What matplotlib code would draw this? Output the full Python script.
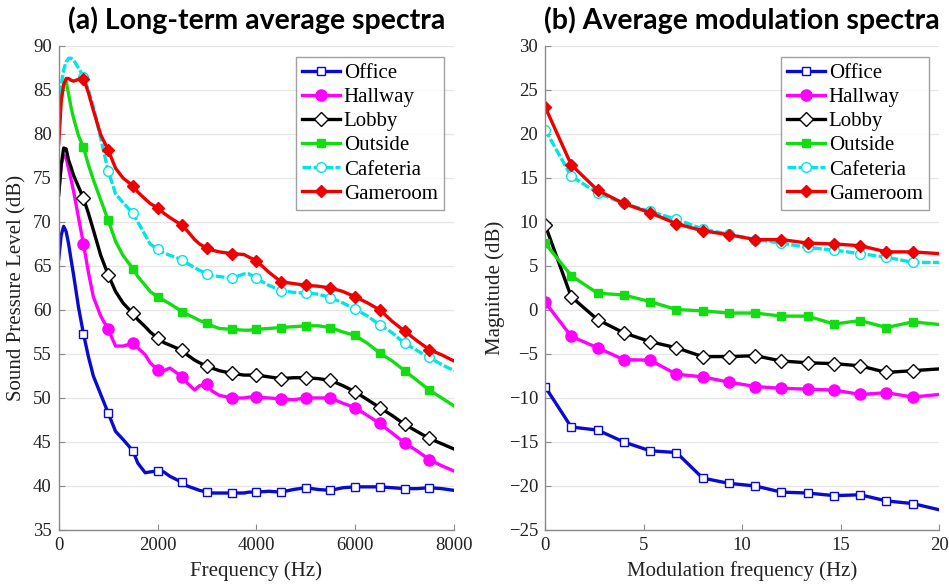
import matplotlib
matplotlib.use("Agg")
import matplotlib.pyplot as plt
import numpy as np

# ---------------- data: (a) long-term average spectra ----------------
freq_hz = [0, 50, 100, 150, 200, 250, 300, 400, 500, 600, 700, 850, 1000,
           1150, 1300, 1500, 1600, 1750, 1850, 2000, 2125, 2250, 2500, 2600,
           2750, 2850, 3000, 3100, 3250, 3500, 3750, 3850, 4000, 4250, 4500,
           4750, 5000, 5250, 5500, 5750, 6000, 6250, 6500, 6750, 7000, 7250,
           7500, 7750, 8000]

spl_office = [65.8, 68.5, 69.5, 68.9, 67.5, 65.7, 64.0, 60.3, 57.3, 54.7, 52.5,
              50.4, 48.3, 46.2, 45.3, 44.0, 42.6, 41.5, 41.6, 41.7, 41.6, 41.1,
              40.4, 40.0, 39.7, 39.5, 39.3, 39.2, 39.2, 39.2, 39.2, 39.3, 39.3,
              39.4, 39.3, 39.6, 39.8, 39.6, 39.5, 39.8, 39.9, 39.9, 39.9, 39.8,
              39.7, 39.7, 39.8, 39.7, 39.5]
spl_hallway = [73.5, 76.5, 77.6, 77.3, 76.0, 74.8, 73.5, 70.5, 67.5, 64.3, 61.5,
               59.3, 57.8, 55.9, 55.9, 56.2, 55.7, 54.9, 54.0, 53.2, 53.1, 53.4,
               52.4, 51.7, 50.9, 51.4, 51.6, 50.8, 50.3, 50.0, 50.0, 50.1, 50.1,
               50.0, 49.9, 49.8, 50.0, 50.0, 50.0, 49.4, 48.9, 48.0, 47.1, 46.0,
               44.9, 44.0, 43.0, 42.3, 41.7]
spl_lobby = [73.1, 76.5, 78.4, 78.3, 77.0, 76.2, 75.3, 74.0, 72.7, 71.0, 69.1,
             66.2, 64.0, 62.1, 60.8, 59.6, 58.9, 58.1, 57.5, 56.8, 56.3, 56.0,
             55.4, 54.9, 54.3, 54.0, 53.6, 53.4, 53.1, 52.8, 52.6, 52.6, 52.6,
             52.4, 52.2, 52.3, 52.3, 52.2, 52.0, 51.4, 50.7, 49.8, 48.9, 48.0,
             47.0, 46.2, 45.4, 44.8, 44.2]
spl_outside = [80.0, 84.0, 85.8, 86.0, 84.5, 83.0, 81.8, 79.8, 78.5, 76.5, 74.8,
               72.5, 70.2, 67.8, 66.2, 64.7, 63.8, 62.8, 62.1, 61.5, 61.1, 60.7,
               59.8, 59.5, 59.1, 58.8, 58.5, 58.2, 57.9, 57.8, 57.7, 57.7, 57.8,
               57.9, 58.0, 58.1, 58.2, 58.2, 58.0, 57.5, 57.1, 56.2, 55.1, 54.2,
               53.1, 52.0, 50.9, 50.0, 49.1]
spl_cafeteria = [82.0, 85.5, 87.3, 88.2, 88.6, 88.6, 88.4, 87.5, 86.5, 85.0, 83.1,
                 79.5, 75.8, 73.2, 72.2, 71.0, 70.0, 68.5, 67.5, 66.9, 66.5, 66.2,
                 65.7, 65.3, 64.8, 64.5, 64.1, 63.9, 63.8, 63.6, 64.1, 64.1, 63.6,
                 62.8, 62.2, 62.0, 61.9, 61.8, 61.4, 60.8, 60.1, 59.3, 58.3, 57.4,
                 56.2, 55.4, 54.6, 53.8, 53.1]
spl_gameroom = [78.9, 83.8, 85.6, 86.3, 86.3, 86.1, 86.0, 86.2, 86.3, 84.7, 82.7,
                79.9, 78.2, 76.1, 75.0, 74.1, 73.4, 72.6, 72.1, 71.6, 71.0, 70.5,
                69.6, 69.0, 68.0, 67.5, 67.0, 66.8, 66.6, 66.4, 66.3, 66.0, 65.6,
                64.3, 63.2, 63.0, 62.8, 62.7, 62.5, 62.1, 61.5, 60.8, 60.0, 58.7,
                57.6, 56.5, 55.5, 54.9, 54.2]

# ---------------- data: (b) average modulation spectra ----------------
mod_freq = [0, 1.33, 2.67, 4, 5.33, 6.67, 8, 9.33, 10.67, 12, 13.33, 14.67,
            16, 17.33, 18.67, 20]
mod_office = [-8.7, -13.3, -13.65, -15.0, -16.0, -16.2, -19.1, -19.7, -20.0,
              -20.7, -20.8, -21.1, -21.0, -21.7, -22.0, -22.7]
mod_hallway = [0.9, -3.0, -4.3, -5.65, -5.7, -7.3, -7.6, -8.2, -8.7, -8.9,
               -9.0, -9.1, -9.6, -9.4, -9.9, -9.6]
mod_lobby = [9.7, 1.5, -1.1, -2.6, -3.6, -4.3, -5.3, -5.3, -5.2, -5.8, -6.0,
             -6.1, -6.35, -7.1, -6.9, -6.7]
mod_outside = [7.6, 3.9, 1.9, 1.7, 0.95, 0.05, -0.1, -0.35, -0.35, -0.7, -0.7,
               -1.6, -1.2, -2.0, -1.35, -1.65]
mod_cafeteria = [20.5, 15.2, 13.3, 12.1, 11.2, 10.3, 9.2, 8.6, 8.0, 7.6, 7.1,
                 6.8, 6.4, 6.0, 5.4, 5.4]
mod_gameroom = [23.1, 16.5, 13.6, 12.1, 11.05, 9.8, 9.0, 8.55, 8.0, 8.0, 7.6,
                7.5, 7.3, 6.6, 6.6, 6.4]

labels = ["Office", "Hallway", "Lobby", "Outside", "Cafeteria", "Gameroom"]

# ---------------- styles ----------------
styles = [
    dict(color="#0a0ad0", marker="s", mfc="white", mec="#0a0ad0", ms=6, ls="-"),
    dict(color="#ff00ff", marker="o", mfc="#ff00ff", mec="#ff00ff", ms=8, ls="-"),
    dict(color="black", marker="D", mfc="white", mec="black", ms=7, ls="-"),
    dict(color="#11dd11", marker="s", mfc="#11dd11", mec="#11dd11", ms=6, ls="-"),
    dict(color="#00e5e5", marker="o", mfc="white", mec="#00e5e5", ms=7, ls=(0, (2.6, 0.7))),
    dict(color="#ee0000", marker="D", mfc="#ee0000", mec="#ee0000", ms=6.5, ls="-"),
]

serif = ["Liberation Serif", "DejaVu Serif"]
plt.rcParams["font.family"] = serif

fig = plt.figure(figsize=(9.49, 5.86), dpi=100)
axL = fig.add_axes([0.0619, 0.0956, 0.4165, 0.826])
axR = fig.add_axes([0.5743, 0.0956, 0.4152, 0.826])

spl = [spl_office, spl_hallway, spl_lobby, spl_outside, spl_cafeteria, spl_gameroom]
mods = [mod_office, mod_hallway, mod_lobby, mod_outside, mod_cafeteria, mod_gameroom]

mark_idx = [i for i, f in enumerate(freq_hz) if f > 0 and f % 500 == 0 and f < 8000]

for lab, y, st in zip(labels, spl, styles):
    axL.plot(freq_hz, y, color=st["color"], ls=st["ls"], lw=2.4,
             marker=st["marker"], mfc=st["mfc"], mec=st["mec"], ms=st["ms"],
             mew=1.0, markevery=mark_idx, label=lab, solid_joinstyle="round")

for lab, y, st in zip(labels, mods, styles):
    axR.plot(mod_freq, y, color=st["color"], ls=st["ls"], lw=2.4,
             marker=st["marker"], mfc=st["mfc"], mec=st["mec"], ms=st["ms"],
             mew=1.0, markevery=list(range(len(mod_freq) - 1)), label=lab)

def style_axes(ax):
    for s in ["top", "right"]:
        ax.spines[s].set_visible(False)
    for s in ["left", "bottom"]:
        ax.spines[s].set_color("#8a8a8a")
        ax.spines[s].set_linewidth(1.0)
    ax.tick_params(direction="in", length=4, color="#8a8a8a", labelsize=13.5,
                   labelcolor="#222222", pad=5)
    ax.yaxis.grid(True, color="#e6e6e6", lw=0.9)
    ax.set_axisbelow(True)
    leg = ax.legend(loc="upper right", bbox_to_anchor=(0.99, 0.99),
                    fontsize=15, frameon=True, fancybox=False,
                    handlelength=1.8, handletextpad=0.2, labelspacing=0.22,
                    borderpad=0.3, borderaxespad=0.3)
    leg.get_frame().set_edgecolor("#8a8a8a")
    leg.get_frame().set_linewidth(1.0)

axL.set_xlim(0, 8000)
axL.set_ylim(35, 90)
axL.set_xticks([0, 2000, 4000, 6000, 8000])
axL.set_yticks(np.arange(35, 91, 5))
axL.set_xlabel("Frequency (Hz)", fontsize=15, color="#222222", labelpad=5)
axL.set_ylabel("Sound Pressure Level (dB)", fontsize=15, color="#222222", labelpad=5)
axL.set_title("(a) Long-term average spectra", fontsize=20.5, fontweight="bold",
              family=["Lato", "DejaVu Sans"], pad=12)
style_axes(axL)

axR.set_xlim(0, 20)
axR.set_ylim(-25, 30)
axR.set_xticks([0, 5, 10, 15, 20])
axR.set_yticks(np.arange(-25, 31, 5))
axR.set_xlabel("Modulation frequency (Hz)", fontsize=15, color="#222222", labelpad=5)
axR.set_ylabel("Magnitude (dB)", fontsize=15, color="#222222", labelpad=3)
axR.set_title("(b) Average modulation spectra", fontsize=20.5, fontweight="bold",
              family=["Lato", "DejaVu Sans"], pad=12)
style_axes(axR)

fig.savefig("out.png", dpi=100)
